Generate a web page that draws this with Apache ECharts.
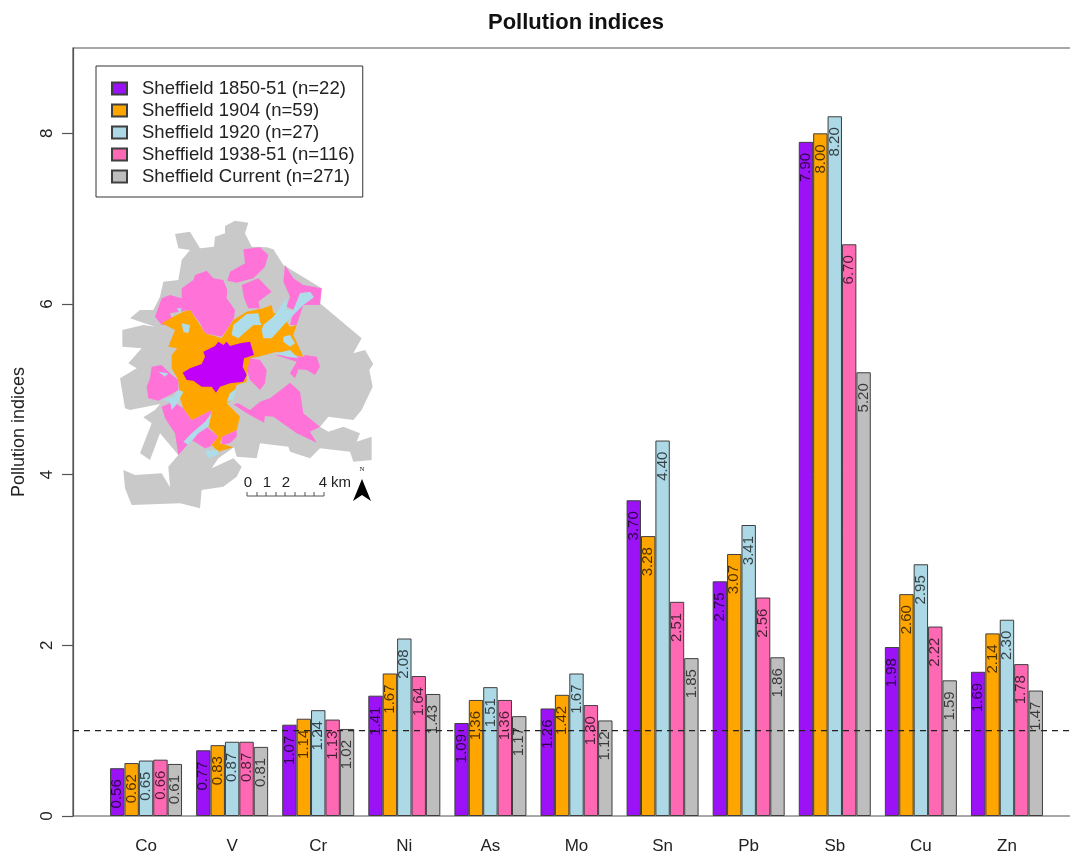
<!DOCTYPE html>
<html><head><meta charset="utf-8">
<style>html,body{margin:0;padding:0;background:#fff}#c{width:1070px;height:855px}</style>
<script src="https://cdn.jsdelivr.net/npm/echarts@6/dist/echarts.min.js"></script>
</head><body><div id="c"></div>
<script>
const elements = ['Co','V','Cr','Ni','As','Mo','Sn','Pb','Sb','Cu','Zn'];
const yTicks = [0,2,4,6,8];
const s1850 = [0.56,0.77,1.07,1.41,1.09,1.26,3.70,2.75,7.90,1.98,1.69];
const s1904 = [0.62,0.83,1.14,1.67,1.36,1.42,3.28,3.07,8.00,2.60,2.14];
const s1920 = [0.65,0.87,1.24,2.08,1.51,1.67,4.40,3.41,8.20,2.95,2.30];
const s1938 = [0.66,0.87,1.13,1.64,1.36,1.30,2.51,2.56,6.70,2.22,1.78];
const sCurrent = [0.61,0.81,1.02,1.43,1.17,1.12,1.85,1.86,5.20,1.59,1.47];
const seriesNames = ['Sheffield 1850-51 (n=22)','Sheffield 1904 (n=59)','Sheffield 1920 (n=27)','Sheffield 1938-51 (n=116)','Sheffield Current (n=271)'];
const seriesColors = ['#9a12f5','#ffa500','#add8e6','#ff69b4','#bebebe'];
const seriesValues = [s1850,s1904,s1920,s1938,sCurrent];
const referenceLevel = 1;
const FONT = '"Liberation Sans", Arial, sans-serif';

const bars = seriesNames.map((name,i)=>({
  name, type:'bar', xAxisIndex:1, yAxisIndex:1, data:seriesValues[i],
  barWidth:14.4, barGap:'0%', z:3,
  itemStyle:{color:seriesColors[i],borderColor:'#3f3f3f',borderWidth:1},
  label:{show:true,position:'insideTop',distance:11,rotate:90,align:'right',verticalAlign:'middle',
    fontFamily:FONT,fontSize:15,color:'rgba(0,0,0,0.7)',formatter:p=>p.value.toFixed(2)}
}));

const poly=(points,fill)=>({type:'polygon',shape:{points},style:{fill}});
const GREY='#c9c9c9',PINK='#ff73d9',ORANGE='#ffa500',BLUE='#aedde9',VIOLET='#c000f8';
const mapShapes=[
 poly([[255,72],[300,65],[330,115],[372,110],[375,80],[405,70],[405,48],[435,32],[475,38],[465,70],[485,110],[530,112],[550,118],[580,165],[695,235],[690,280],[815,385],[790,430],[825,420],[850,462],[838,480],[848,530],[815,600],[790,630],[715,620],[690,650],[715,665],[760,650],[810,670],[800,695],[845,680],[845,750],[790,755],[780,725],[690,715],[660,745],[600,725],[595,710],[510,700],[500,745],[440,740],[432,712],[385,745],[365,775],[430,745],[455,770],[440,800],[400,830],[335,840],[330,895],[270,880],[125,885],[105,835],[100,780],[135,795],[215,790],[240,832],[235,770],[265,735],[210,670],[180,750],[150,730],[185,640],[160,622],[195,600],[210,582],[120,600],[105,595],[90,505],[140,475],[115,460],[155,415],[97,410],[97,360],[160,345],[195,350],[120,325],[150,300],[190,300],[210,260],[220,215],[265,210],[275,150],[300,120],[265,115]],GREY),
 poly([[460,118],[510,112],[535,135],[525,170],[490,205],[440,218],[412,212],[420,185],[465,160]],PINK),
 poly([[455,225],[505,205],[545,245],[505,275],[510,295],[475,295],[462,265]],PINK),
 poly([[275,235],[310,210],[315,195],[350,182],[370,205],[400,210],[412,240],[410,265],[435,300],[432,325],[410,360],[395,380],[345,370],[330,340],[300,300],[240,310],[250,345],[215,345],[195,320],[215,265],[240,255],[275,265]],PINK),
 poly([[585,165],[610,205],[640,225],[695,235],[690,285],[640,285],[620,345],[600,345],[612,300],[590,290],[600,260],[580,215]],PINK),
 poly([[645,435],[680,440],[690,470],[675,495],[650,480],[625,478],[615,505],[600,490],[620,455],[555,435],[640,440]],PINK),
 poly([[480,445],[510,450],[530,480],[525,520],[510,540],[480,510],[470,480]],PINK),
 poly([[185,470],[215,465],[240,490],[265,510],[265,540],[240,555],[205,572],[175,565],[170,530],[180,505]],PINK),
 poly([[215,590],[250,575],[280,595],[305,630],[365,600],[350,650],[385,680],[360,710],[345,715],[305,690],[265,735],[255,670],[225,625]],PINK),
 poly([[600,518],[630,545],[640,610],[690,650],[660,665],[680,698],[620,670],[550,620],[525,618],[522,638],[470,610],[430,583],[445,580],[480,600],[510,575],[540,565]],PINK),
 poly([[395,680],[440,660],[440,680],[420,700],[395,705]],PINK),
 poly([[215,340],[250,320],[280,305],[300,300],[330,345],[345,370],[395,385],[430,330],[470,305],[520,295],[545,285],[550,310],[610,300],[590,335],[600,350],[620,345],[610,375],[640,440],[560,425],[505,440],[480,445],[470,490],[470,515],[440,525],[425,570],[410,580],[450,620],[440,660],[395,680],[390,700],[430,712],[385,725],[365,705],[385,680],[355,650],[365,600],[305,630],[280,595],[270,565],[265,510],[245,475],[245,435],[262,415],[235,410],[255,360]],ORANGE),
 poly([[430,345],[470,312],[505,310],[510,335],[515,345],[490,345],[445,385],[425,375]],BLUE),
 poly([[520,345],[550,320],[575,285],[590,265],[590,300],[610,300],[630,250],[660,245],[672,262],[640,285],[590,335],[545,385],[520,385],[515,360]],BLUE),
 poly([[580,380],[600,375],[615,400],[600,410],[580,395]],BLUE),
 poly([[560,430],[600,420],[625,445],[590,440]],BLUE),
 poly([[420,550],[440,535],[430,570],[410,575]],BLUE),
 poly([[215,570],[250,560],[265,540],[280,545],[262,580],[245,600],[240,575]],BLUE),
 poly([[305,670],[345,635],[365,610],[355,650],[325,670],[295,705],[280,695]],BLUE),
 poly([[345,722],[385,720],[385,735],[355,745]],BLUE),
 poly([[275,340],[300,345],[295,370],[280,365]],BLUE),
 poly([[260,295],[275,295],[270,310]],BLUE),
 poly([[205,485],[235,490],[225,500]],BLUE),
 poly([[340,425],[375,408],[385,395],[400,405],[410,395],[420,408],[450,400],[480,395],[492,435],[462,445],[458,470],[470,495],[460,515],[420,520],[390,530],[378,548],[365,530],[335,530],[310,512],[290,510],[278,488],[300,475],[335,462],[345,440]],VIOLET)
];
const scaleLabels=[['0',248],['1',267],['2',286],['4',323],['km',341]];
const scaleTicks=[247,257,266,276,285,295,305,314,324];
const graphic=[
 {type:'group',x:90,y:210,scaleX:1/3,scaleY:1/3,z:10,children:mapShapes},
 ...scaleLabels.map(([t,x])=>({type:'text',x,y:483,z:11,style:{text:t,fontFamily:FONT,fontSize:15,fill:'#222',align:'center',verticalAlign:'middle'}})),
 {type:'line',z:11,shape:{x1:247,y1:496,x2:324,y2:496},style:{stroke:'#555',lineWidth:1}},
 ...scaleTicks.map(x=>({type:'line',z:11,shape:{x1:x,y1:492,x2:x,y2:496},style:{stroke:'#555',lineWidth:1}})),
 {type:'polygon',z:11,shape:{points:[[362,479],[371,501],[362,495],[353,501]]},style:{fill:'#000'}},
 {type:'text',x:362,y:469,z:11,style:{text:'N',fontFamily:'"Liberation Serif",serif',fontSize:7,fill:'#222',align:'center',verticalAlign:'middle'}}
];

const chart=echarts.init(document.getElementById('c'),null,{renderer:'canvas'});
chart.setOption({
 animation:false,backgroundColor:'#fff',
 title:{text:'Pollution indices',left:571,top:7,textAlign:'center',textStyle:{fontFamily:FONT,fontWeight:'bold',fontSize:22,color:'#111'}},
 legend:{orient:'vertical',left:96,top:66,data:seriesNames,icon:'rect',itemWidth:15,itemHeight:12,itemGap:3,
   padding:[13,8,11,15],borderColor:'#333',borderWidth:1,backgroundColor:'#fff',z:20,selectedMode:false,
   textStyle:{fontFamily:FONT,fontSize:18.5,color:'#222',padding:[0,0,0,10]}},
 grid:[
  {left:73,top:48,right:-2,bottom:39,show:true,borderColor:'#555',borderWidth:1.2,backgroundColor:'transparent',outerBoundsMode:'none'},
  {left:103,top:48,width:947,bottom:39,outerBoundsMode:'none'}
 ],
 xAxis:[
  {type:'value',gridIndex:0,min:0,max:1,show:false},
  {type:'category',gridIndex:1,data:elements,axisTick:{show:false},axisLine:{show:false},
   axisLabel:{fontFamily:FONT,fontSize:17,color:'#222',margin:22,interval:0}}
 ],
 yAxis:[
  {type:'value',gridIndex:0,min:0,max:9,interval:1,name:'Pollution indices',nameLocation:'middle',nameGap:45,nameRotate:90,
   nameTextStyle:{fontFamily:FONT,fontSize:18,color:'#222'},
   axisLine:{show:true,lineStyle:{color:'#555',width:1.2}},
   axisTick:{show:true,length:11,lineStyle:{color:'#555',width:1.2},customValues:yTicks},
   axisLabel:{rotate:90,fontFamily:FONT,fontSize:17,color:'#222',margin:17,customValues:yTicks},
   splitLine:{show:false}},
  {type:'value',gridIndex:1,min:0,max:9,show:false,splitLine:{show:false}}
 ],
 series:[...bars,
  {type:'line',name:'Reference',xAxisIndex:0,yAxisIndex:0,z:5,symbol:'none',silent:true,
   data:[[0,referenceLevel],[1,referenceLevel]],lineStyle:{color:'#222',width:1.2,type:[6,5]}}
 ],
 graphic
});
</script></body></html>
